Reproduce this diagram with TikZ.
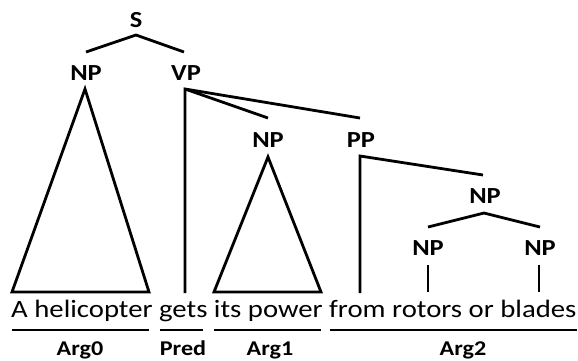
\documentclass[tikz,border=0pt]{standalone}
\usepackage{fontspec}
\setmainfont{Carlito}[FakeStretch=1.15]
\begin{document}
\begin{tikzpicture}[x=1pt,y=-1pt,
  cat/.style={font=\fontsize{23}{25}\selectfont\bfseries, inner sep=0pt, anchor=base},
  arglab/.style={font=\fontsize{21}{23}\selectfont\bfseries, inner sep=0pt, anchor=base},
  edge/.style={line width=2.8pt, line join=miter},
  ul/.style={line width=2.8pt}]
\useasboundingbox (0,0) rectangle (578,360);
% category labels
\node[cat] (S)   at (136,27)  {S};
\node[cat] (NPa) at (86,80)   {NP};
\node[cat] (VP)  at (186,80)  {VP};
\node[cat] (NPb) at (268,147) {NP};
\node[cat] (PP)  at (361,147) {PP};
\node[cat] (NPc) at (485,203) {NP};
\node[cat] (NPd) at (428,255) {NP};
\node[cat] (NPe) at (540,255) {NP};
% connector points
\coordinate (s0) at (136,35);
\coordinate (s1) at (86,52);
\coordinate (s2) at (184,52);
\coordinate (npa0) at (85,89);
\coordinate (npaL) at (12,292);
\coordinate (npaR) at (149,292);
\coordinate (vp0) at (185,89);
\coordinate (vpB) at (185,293);
\coordinate (vp1) at (268,118);
\coordinate (vp2) at (360,118);
\coordinate (npb0) at (268,157);
\coordinate (npbL) at (214,292);
\coordinate (npbR) at (321,292);
\coordinate (pp0) at (360,156);
\coordinate (ppB) at (360,293);
\coordinate (pp1) at (483,175);
\coordinate (npc0) at (484,213);
\coordinate (npc1) at (428,227);
\coordinate (npc2) at (540,227);
\coordinate (npd0) at (428,265);
\coordinate (npdB) at (428,292);
\coordinate (npe0) at (539,265);
\coordinate (npeB) at (539,292);
% edges
\draw[edge] (s1) -- (s0) -- (s2);
\draw[edge] (npa0) -- (npaL) -- (npaR) -- cycle;
\draw[edge] (vpB) -- (vp0) -- (vp2);
\draw[edge] (vp0) -- (vp1);
\draw[edge] (npb0) -- (npbL) -- (npbR) -- cycle;
\draw[edge] (ppB) -- (pp0) -- (pp1);
\draw[edge] (npc1) -- (npc0) -- (npc2);
\draw[edge] (npd0) -- (npdB);
\draw[edge] (npe0) -- (npeB);
% sentence
\node[font=\fontsize{25}{27}\selectfont, inner sep=0pt, anchor=base west] (sent) at (11,317) {A helicopter gets its power from rotors or blades};
% underlines
\coordinate (a0L) at (12,330);  \coordinate (a0R) at (149,330);
\coordinate (prL) at (160,330); \coordinate (prR) at (203,330);
\coordinate (a1L) at (214,330); \coordinate (a1R) at (321,330);
\coordinate (a2L) at (330,330); \coordinate (a2R) at (577,330);
\draw[ul] (a0L) -- (a0R);
\draw[ul] (prL) -- (prR);
\draw[ul] (a1L) -- (a1R);
\draw[ul] (a2L) -- (a2R);
\node[arglab] (arg0) at (80,355)  {Arg0};
\node[arglab] (pred) at (183,355) {Pred};
\node[arglab] (arg1) at (270,355) {Arg1};
\node[arglab] (arg2) at (463,355) {Arg2};
\end{tikzpicture}
\end{document}
